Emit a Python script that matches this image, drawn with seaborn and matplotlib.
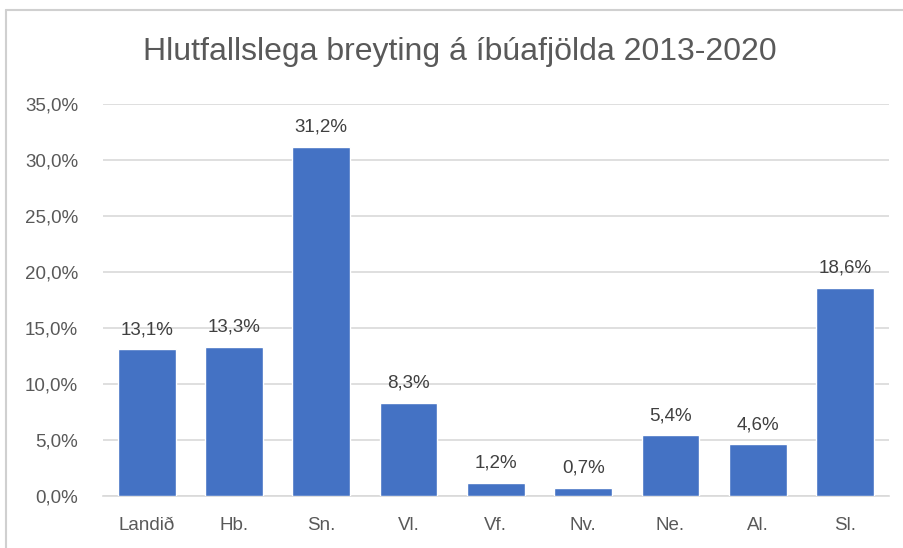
import matplotlib
matplotlib.use("Agg")
import matplotlib.pyplot as plt
import seaborn as sns
import pandas as pd
from matplotlib.lines import Line2D

# data
categories = ["Landið", "Hb.", "Sn.", "Vl.", "Vf.", "Nv.", "Ne.", "Al.", "Sl."]
values = [13.1, 13.3, 31.2, 8.3, 1.2, 0.7, 5.4, 4.6, 18.6]
yticks = [0, 5, 10, 15, 20, 25, 30, 35]

df = pd.DataFrame({"svaedi": categories, "breyting": values})

sns.set_style("white")
plt.rcParams["font.family"] = ["Liberation Sans", "DejaVu Sans"]

fig = plt.figure(figsize=(9.04, 5.48), dpi=100)
ax = fig.add_axes([0.114, 0.095, 0.869, 0.715])

sns.barplot(data=df, x="svaedi", y="breyting", color="#4472c4", width=0.66,
            saturation=1, ax=ax, zorder=3)

ax.set_ylim(0, 35)
ax.set_xlim(-0.5, 8.5)
ax.set_yticks(yticks)
ax.set_yticklabels([f"{t:.1f}%".replace(".", ",") for t in yticks])
ax.yaxis.grid(True, color="#d9d9d9", linewidth=1.2, zorder=0)
ax.set_xlabel("")
ax.set_ylabel("")
for s in ["top", "right", "left"]:
    ax.spines[s].set_visible(False)
ax.spines["bottom"].set_color("#d9d9d9")
ax.spines["bottom"].set_linewidth(1.2)
ax.tick_params(axis="both", length=0, labelsize=13.5, colors="#595959")
ax.tick_params(axis="y", pad=18)
ax.tick_params(axis="x", pad=15)

for i, v in enumerate(values):
    ax.text(i, v + 1.0, f"{v:.1f}%".replace(".", ","), ha="center", va="bottom",
            fontsize=13.5, color="#404040")

fig.text(0.509, 0.905, "Hlutfallslega breyting á íbúafjölda 2013-2020", ha="center",
         va="center", fontsize=23, color="#595959")

# chart frame
fig.add_artist(Line2D([6/904, 6/904], [0, 1 - 10/548], color="#d0d0d0", lw=1.5))
fig.add_artist(Line2D([6/904, 1], [1 - 10/548, 1 - 10/548], color="#d0d0d0", lw=1.5))

fig.savefig("out.png", dpi=100)
